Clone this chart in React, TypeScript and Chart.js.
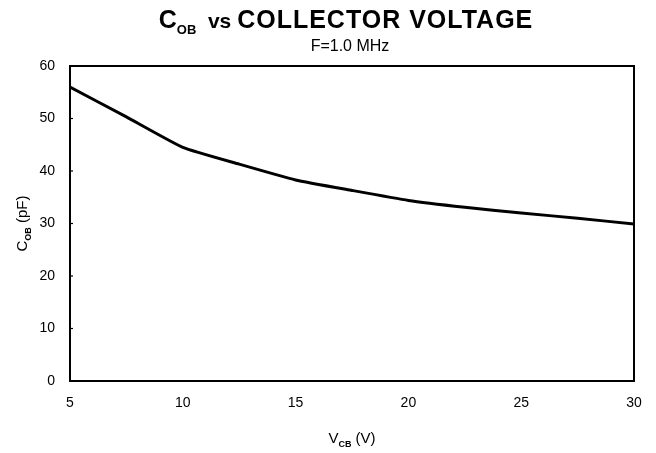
import React, { useEffect, useRef } from "react";
import { Chart, registerables } from "chart.js";

Chart.register(...registerables);

const voltageV = [5, 7.5, 10, 12.5, 15, 17.5, 20, 22.5, 25, 27.5, 30];
const cobPF = [56, 50.3, 44.5, 41.3, 38.3, 36.3, 34.4, 33.1, 32.0, 31.0, 29.9];
const xTickValues = [5, 10, 15, 20, 25, 30];
const yTickValues = [0, 10, 20, 30, 40, 50, 60];
const titleMain = "COLLECTOR VOLTAGE";
const subtitleText = "F=1.0 MHz";

const FONT = "'Liberation Sans', Arial, Helvetica, sans-serif";

const decorPlugin = {
  id: "decor",
  beforeDatasetsDraw(chart: any) {
    const { ctx, chartArea } = chart;
    const ys = chart.scales.y;
    ctx.save();
    ctx.strokeStyle = "#000";
    ctx.lineWidth = 2;
    ctx.strokeRect(chartArea.left, chartArea.top, chartArea.right - chartArea.left, chartArea.bottom - chartArea.top);
    ctx.lineWidth = 1.2;
    yTickValues.forEach((v) => {
      const py = ys.getPixelForValue(v);
      ctx.beginPath();
      ctx.moveTo(chartArea.left, py);
      ctx.lineTo(chartArea.left + 3, py);
      ctx.stroke();
    });
    ctx.restore();
  },
  afterDraw(chart: any) {
    const { ctx, chartArea } = chart;
    ctx.save();
    ctx.fillStyle = "#000";
    ctx.textBaseline = "alphabetic";
    ctx.textAlign = "left";
    // Title
    const parts = [
      { t: "C", f: `bold 25px ${FONT}`, dy: 0, ls: "0px" },
      { t: "OB", f: `bold 13px ${FONT}`, dy: 6, ls: "0px" },
      { t: "  vs ", f: `bold 21px ${FONT}`, dy: 0, ls: "0px" },
      { t: titleMain, f: `bold 25px ${FONT}`, dy: 0, ls: "1px" },
    ];
    let total = 0;
    const widths: number[] = [];
    parts.forEach((p) => {
      ctx.font = p.f;
      (ctx as any).letterSpacing = p.ls;
      const w = ctx.measureText(p.t).width;
      widths.push(w);
      total += w;
    });
    let x = 346 - total / 2;
    parts.forEach((p, i) => {
      ctx.font = p.f;
      (ctx as any).letterSpacing = p.ls;
      ctx.fillText(p.t, x, 28 + p.dy);
      x += widths[i];
    });
    (ctx as any).letterSpacing = "0px";
    // Subtitle
    ctx.font = `16px ${FONT}`;
    ctx.textAlign = "center";
    ctx.fillText(subtitleText, 350, 51);
    // X axis title
    const cx = (chartArea.left + chartArea.right) / 2;
    ctx.textAlign = "left";
    const xParts = [
      { t: "V", f: `15px ${FONT}`, dy: 0 },
      { t: "CB", f: `bold 9px ${FONT}`, dy: 4 },
      { t: " (V)", f: `15px ${FONT}`, dy: 0 },
    ];
    let xt = 0;
    const xw: number[] = [];
    xParts.forEach((p) => {
      ctx.font = p.f;
      const w = ctx.measureText(p.t).width;
      xw.push(w);
      xt += w;
    });
    let xx = cx - xt / 2;
    xParts.forEach((p, i) => {
      ctx.font = p.f;
      ctx.fillText(p.t, xx, 443 + p.dy);
      xx += xw[i];
    });
    // Y axis title
    const cy = (chartArea.top + chartArea.bottom) / 2;
    ctx.translate(27, cy);
    ctx.rotate(-Math.PI / 2);
    const yParts = [
      { t: "C", f: `15px ${FONT}`, dy: 0 },
      { t: "OB", f: `bold 9px ${FONT}`, dy: 4 },
      { t: " (pF)", f: `15px ${FONT}`, dy: 0 },
    ];
    let yt = 0;
    const yw: number[] = [];
    yParts.forEach((p) => {
      ctx.font = p.f;
      const w = ctx.measureText(p.t).width;
      yw.push(w);
      yt += w;
    });
    let yy = -yt / 2;
    yParts.forEach((p, i) => {
      ctx.font = p.f;
      ctx.fillText(p.t, yy, 0 + p.dy);
      yy += yw[i];
    });
    ctx.restore();
  },
};

export default function App() {
  const ref = useRef<HTMLCanvasElement>(null);
  useEffect(() => {
    if (!ref.current) return;
    const chart = new Chart(ref.current, {
      type: "line",
      data: {
        datasets: [
          {
            data: voltageV.map((v, i) => ({ x: v, y: cobPF[i] })),
            borderColor: "#000",
            borderWidth: 3,
            pointRadius: 0,
            tension: 0.15,
            fill: false,
          },
        ],
      },
      options: {
        animation: false,
        responsive: false,
        maintainAspectRatio: false,
        layout: { padding: { top: 66, right: 22, bottom: 0, left: 0 } },
        plugins: { legend: { display: false }, tooltip: { enabled: false }, title: { display: false } },
        scales: {
          x: {
            type: "linear",
            min: 5,
            max: 30,
            afterFit: (s: any) => { s.height = 72; },
            afterBuildTicks: (s: any) => { s.ticks = xTickValues.map((v) => ({ value: v })); },
            grid: { display: false, drawTicks: false },
            border: { display: false },
            ticks: { padding: 14, color: "#000", font: { family: FONT, size: 14 } },
          },
          y: {
            min: 0,
            max: 60,
            afterFit: (s: any) => { s.width = 70; },
            afterBuildTicks: (s: any) => { s.ticks = yTickValues.map((v) => ({ value: v })); },
            grid: { display: false, drawTicks: false },
            border: { display: false },
            ticks: { padding: 15, color: "#000", font: { family: FONT, size: 14 } },
          },
        },
      },
      plugins: [decorPlugin],
    } as any);
    return () => chart.destroy();
  }, []);
  return (
    <div style={{ position: "fixed", left: 0, top: 0, width: 656, height: 453, background: "#fff" }}>
      <canvas ref={ref} width={656} height={453} style={{ width: 656, height: 453 }} />
    </div>
  );
}
